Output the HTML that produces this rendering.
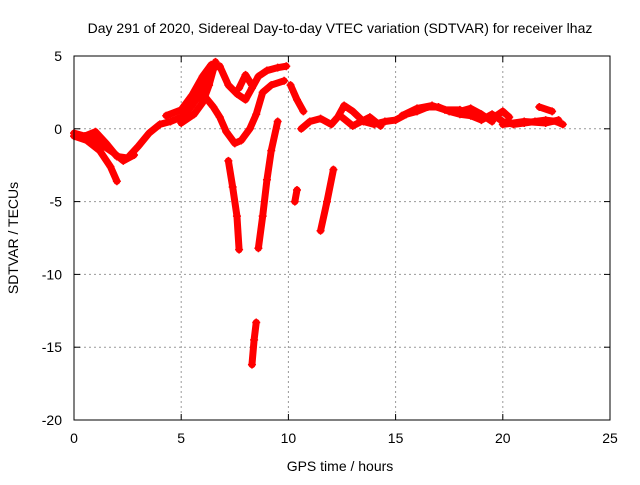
<!DOCTYPE html>
<html><head><meta charset="utf-8"><style>
body{margin:0;background:#fff}
svg text{font-family:"Liberation Sans",sans-serif;font-size:14px;fill:#000}
</style></head><body>
<svg id="chart" width="640" height="480">
<text x="340" y="33" text-anchor="middle">Day 291 of 2020, Sidereal Day-to-day VTEC variation (SDTVAR) for receiver lhaz</text>
<text x="340" y="471" text-anchor="middle">GPS time / hours</text>
<text transform="translate(18,238) rotate(-90)" text-anchor="middle">SDTVAR / TECUs</text>
<g id="grid"></g><g id="ticks"></g><g id="marks"></g>
<rect x="74" y="56" width="536" height="364" fill="none" stroke="#000"/>
</svg>
<script>
const xTicks=[0,5,10,15,20,25];
const yTicks=[5,0,-5,-10,-15,-20];
const tracks=[
[[0,-0.3],[0.5,-0.5],[1,-0.2],[1.5,-1.0],[2,-1.9],[2.5,-2.0],[3,-1.2],[3.5,-0.3],[4,0.3],[4.5,0.5],[5,0.8],[5.5,1.6],[6,2.8],[6.5,4.2],[6.8,4.3],[7.2,3.0],[7.6,2.4],[8,2.0],[8.3,2.8],[8.6,3.6],[9,4.0],[9.5,4.2],[9.9,4.3]],
[[0,-0.5],[0.6,-0.8],[1.2,-1.5],[1.7,-2.6],[2,-3.6]],
[[0.8,-0.6],[1.3,-1.1],[1.8,-1.6],[2.3,-2.2],[2.8,-1.8]],
[[4.3,0.9],[5,1.3],[5.5,2.3],[6,3.6],[6.4,4.4]],
[[5,0.4],[5.6,1.0],[6,1.8],[6.3,3.0],[6.6,4.6]],
[[5.2,1.0],[5.7,2.0],[6,2.4],[6.5,1.5],[6.8,0.8],[7.1,-0.2],[7.5,-1.0],[7.8,-0.8],[8.2,0],[8.5,1],[8.8,2.5],[9.2,3.0],[9.8,3.3]],
[[7.2,-2.2],[7.4,-4],[7.6,-6],[7.7,-8.3]],
[[8.6,-8.2],[8.8,-6],[9,-3.5],[9.2,-1.5],[9.5,0.5]],
[[8.3,-16.2],[8.4,-14.5],[8.5,-13.3]],
[[10.3,-5],[10.4,-4.2]],
[[11.5,-7],[11.8,-5],[12.1,-2.8]],
[[7.7,2.8],[8,3.7],[8.3,3.0]],
[[10.1,3.0],[10.4,2.0],[10.7,1.2]],
[[10.6,0],[11,0.5],[11.5,0.7],[12,0.3],[12.3,0.8],[12.6,1.6],[13,1.2],[13.5,0.5],[14,0.3],[14.5,0.5],[15,0.6],[15.5,1.0],[16,1.2],[16.5,1.5],[17,1.5],[17.5,1.2],[18,1.0],[18.5,0.9],[19,0.6],[19.5,1.0],[20,0.5],[20.5,0.3],[21,0.4],[21.5,0.5],[22,0.6],[22.5,0.5],[22.8,0.3]],
[[12.5,0.8],[13,0.2],[13.8,0.8],[14.3,0.2]],
[[15.3,0.9],[16,1.4],[16.7,1.6],[17.3,1.3],[18,1.3]],
[[18,1.2],[18.5,1.4],[19,1.0],[19.5,0.5]],
[[19.7,0.9],[20,1.2],[20.3,0.8]],
[[20,0.3],[21,0.5],[22,0.4],[22.6,0.6]],
[[21.7,1.5],[22.3,1.2]]
];
const svgNS="http://www.w3.org/2000/svg";
const X=h=>74+h*536/25, Y=v=>56+(5-v)*364/25;
const grid=document.getElementById('grid'),ticks=document.getElementById('ticks'),marks=document.getElementById('marks');
function mk(tag,attrs,parent){const e=document.createElementNS(svgNS,tag);for(const k in attrs)e.setAttribute(k,attrs[k]);parent.appendChild(e);return e;}
xTicks.forEach(t=>{
 if(t>0&&t<25){const g=mk('line',{x1:X(t),x2:X(t),y1:56,y2:420,stroke:'#999','stroke-dasharray':'2,3'},grid);
 
 }
 mk('line',{x1:X(t),x2:X(t),y1:420,y2:414,stroke:'#000'},ticks);
 mk('line',{x1:X(t),x2:X(t),y1:56,y2:62,stroke:'#000'},ticks);
 const l=mk('text',{x:X(t),y:443,'text-anchor':'middle'},ticks);l.textContent=t;
 
 
});
yTicks.forEach(t=>{
 if(t<5&&t>-20){const g=mk('line',{x1:74,x2:610,y1:Y(t),y2:Y(t),stroke:'#999','stroke-dasharray':'2,3'},grid);
 
 }
 mk('line',{x1:74,x2:80,y1:Y(t),y2:Y(t),stroke:'#000'},ticks);
 mk('line',{x1:610,x2:604,y1:Y(t),y2:Y(t),stroke:'#000'},ticks);
 const l=mk('text',{x:62,y:Y(t)+5,'text-anchor':'end'},ticks);l.textContent=t;
 
 
});
tracks.forEach(tr=>{
 const p=mk('polyline',{points:tr.map(d=>X(d[0])+','+Y(d[1])).join(' '),fill:'none',stroke:'#f00','stroke-width':7,'stroke-linecap':'round','stroke-linejoin':'round'},marks);
 
 
 tr.forEach(d=>{
  const m=mk('path',{d:`M${X(d[0])-4},${Y(d[1])}h8M${X(d[0])},${Y(d[1])-4}v8`,stroke:'#f00','stroke-width':1.5},marks);
  
  
 });
});
</script>
</body></html>
